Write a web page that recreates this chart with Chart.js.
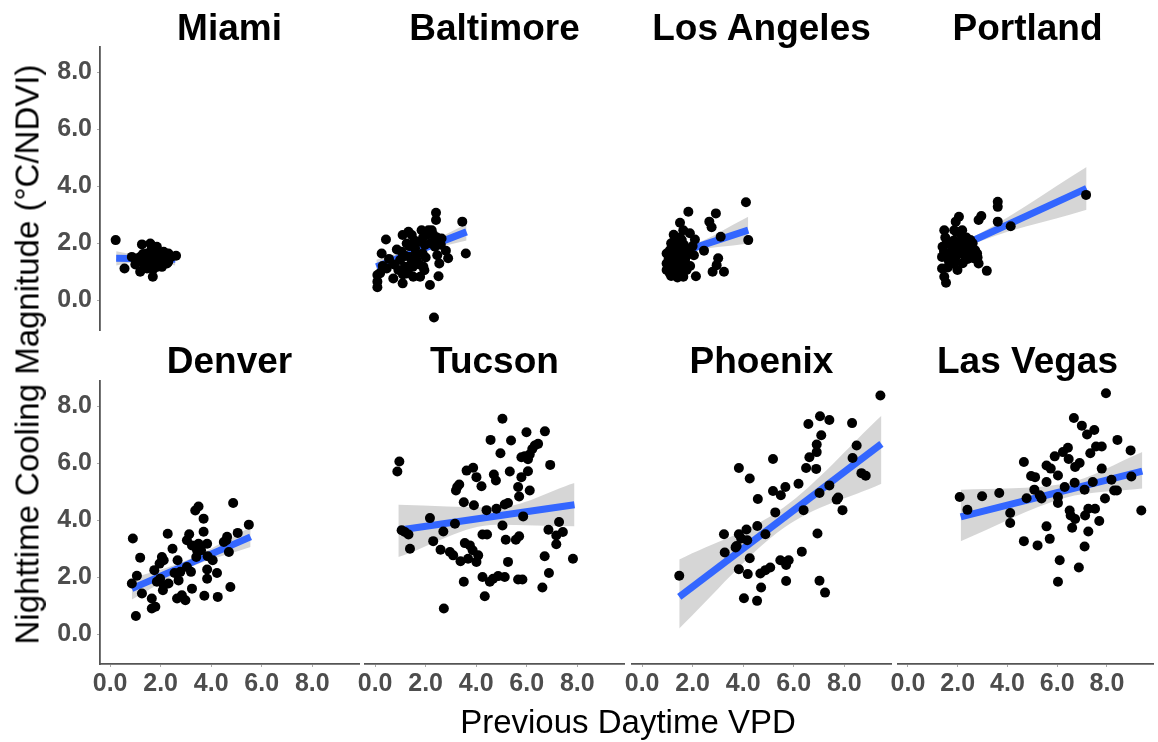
<!DOCTYPE html>
<html>
<head>
<meta charset="utf-8">
<script src="https://cdn.jsdelivr.net/npm/chart.js@4.4.1/dist/chart.umd.min.js"></script>
<style>
  html, body { margin: 0; padding: 0; background: #ffffff; }
  #fig { position: relative; width: 1158px; height: 742px; overflow: hidden;
         font-family: "Liberation Sans", Arial, sans-serif; }
  #fig canvas { position: absolute; left: 0; top: 0; }
  .facet { position: absolute; width: 300px; text-align: center; white-space: nowrap;
           font-size: 37px; line-height: 37px; font-weight: bold; color: #000; }
  .axis-title { position: absolute; text-align: center; white-space: nowrap;
                font-size: 33px; line-height: 33px; color: #000; }
</style>
</head>
<body>
<div id="fig"></div>
<script>
// ---- data -------------------------------------------------------------
const cities = ['Miami', 'Baltimore', 'Los Angeles', 'Portland', 'Denver', 'Tucson', 'Phoenix', 'Las Vegas'];

const xTickValues = [0, 2, 4, 6, 8];
const xTickLabels = ['0.0', '2.0', '4.0', '6.0', '8.0'];
const yTickValues = [0, 2, 4, 6, 8];
const yTickLabels = ['0.0', '2.0', '4.0', '6.0', '8.0'];

// previous daytime VPD (x) and nighttime cooling magnitude (y) per city
const miamiVPD = [0.22,0.57,0.86,1.06,1.19,1.26,1.32,1.46,1.52,1.59,1.65,1.69,1.75,1.79,1.85,1.92,1.98,2.05,2.12,2.18,2.31,2.41,2.61,1.39,1.59,1.85,1.46,1.72,2.25,1.19,1.00,1.30,1.60,1.70,2.00,2.30,1.85];
const miamiCool = [2.11,1.11,1.52,1.41,1.00,1.96,1.29,1.64,1.17,1.99,1.82,0.82,1.52,1.29,1.88,1.64,1.41,1.17,1.70,1.47,1.64,1.52,1.56,1.47,1.29,1.17,1.11,1.70,1.29,1.52,1.25,1.62,1.45,1.08,1.62,1.35,1.50];

const baltimoreVPD = [0.09,0.09,0.09,0.26,0.43,0.46,0.72,0.86,1.09,1.09,1.18,1.25,1.32,1.38,1.45,1.49,1.58,1.64,1.71,1.78,1.84,1.88,1.91,1.97,2.04,2.11,2.17,2.24,2.33,2.41,2.41,2.37,2.46,2.54,2.51,2.63,2.80,2.89,3.45,3.59,0.99,0.92,1.51,1.25,1.05,1.20,1.35,1.55,1.62,1.75,1.90,2.00,2.20,2.30,2.45,1.45,0.75,0.55,0.30,0.20,2.60,1.95,1.30,1.10];
const baltimoreCool = [0.45,0.65,0.88,1.64,2.13,1.11,0.76,1.78,2.29,0.59,1.17,1.99,2.40,1.52,2.29,1.17,1.82,1.41,2.05,0.82,2.46,1.64,1.17,1.94,2.29,2.46,0.53,2.46,-0.61,3.07,2.82,1.88,1.58,1.29,0.84,2.17,1.74,1.47,2.76,1.64,1.41,1.06,0.82,0.94,1.70,1.55,1.90,2.10,1.65,1.25,2.20,1.50,2.00,2.30,2.20,1.35,1.25,1.45,1.20,0.95,1.95,1.05,1.05,0.90];

const losAngelesVPD = [1.83,1.50,1.63,1.30,1.24,0.97,0.97,0.97,1.10,1.37,1.43,1.50,1.63,1.70,1.83,1.89,2.05,2.13,2.09,2.45,2.66,2.75,2.92,2.79,3.01,2.95,3.11,3.24,4.11,4.20,1.24,1.43,1.57,1.76,1.05,1.10,1.15,1.20,1.30,1.35,1.40,1.45,1.55,1.60,1.65,1.70,1.05,1.25,1.50,1.75,1.90,2.00,1.15,1.40];
const losAngelesCool = [3.11,2.72,2.46,2.11,1.82,1.64,1.29,1.06,0.94,1.17,1.52,1.88,0.82,1.41,1.76,2.35,1.58,0.84,2.13,1.74,2.76,2.56,3.05,1.00,1.47,1.23,2.23,1.00,3.44,2.11,1.29,0.94,2.11,1.06,1.45,1.75,2.00,1.20,1.55,0.95,1.85,1.25,1.65,1.05,1.95,1.20,1.15,2.30,2.20,1.55,1.20,1.90,0.85,0.80];

const portlandVPD = [7.16,4.13,3.61,3.61,3.61,3.17,2.84,2.95,2.84,2.78,2.58,2.38,2.18,2.05,1.92,1.86,1.46,1.39,1.37,1.37,1.46,1.53,1.66,1.79,1.92,1.99,2.12,2.25,2.32,2.45,2.64,1.66,1.79,2.05,1.59,2.51,1.45,1.55,1.65,1.75,1.85,1.90,2.00,2.10,2.20,2.30,2.40,2.50,2.60,2.70,2.80,1.60,1.50,2.15,1.95,2.35];
const portlandCool = [3.70,2.60,3.46,3.28,2.76,1.03,2.82,2.96,1.29,1.64,1.82,1.94,2.46,2.93,2.76,2.46,2.46,1.88,1.52,1.11,0.82,0.61,1.64,1.88,1.52,1.06,1.64,1.82,1.52,1.70,1.47,1.99,1.29,1.99,1.47,2.11,1.70,2.00,1.35,1.70,2.10,1.35,1.75,2.05,1.30,1.95,1.45,1.85,2.00,1.75,1.50,1.15,2.20,2.30,2.40,2.20];

const denverVPD = [0.90,0.86,1.06,1.19,1.26,1.02,1.65,1.65,1.79,1.75,1.85,1.96,2.05,2.12,1.98,2.12,2.09,2.28,2.47,2.31,2.67,2.71,2.65,2.84,2.98,2.78,3.04,3.20,3.13,3.24,3.37,3.50,3.41,3.24,3.70,3.70,3.50,3.84,3.86,3.84,3.84,3.73,4.06,4.23,4.26,4.50,4.63,4.70,4.76,4.87,5.05,5.49,3.44,3.04,2.55,3.60,4.60];
const denverCool = [3.36,1.78,2.05,2.69,1.43,0.64,1.25,0.90,0.96,2.25,1.84,2.48,2.71,2.60,1.95,1.72,1.54,3.53,3.00,1.78,2.60,1.89,1.25,1.37,1.19,2.19,2.36,2.19,3.51,3.12,4.35,4.49,2.71,1.60,4.06,3.60,3.18,3.18,2.74,2.27,1.95,1.35,2.60,2.15,1.31,3.24,3.42,2.89,1.66,4.61,3.56,3.85,2.95,3.30,2.15,2.95,3.30];

const tucsonVPD = [0.96,0.88,1.05,1.18,1.32,1.38,2.17,2.30,2.70,2.59,2.72,2.96,3.09,3.16,3.20,3.33,3.25,3.38,3.51,3.51,3.55,3.62,3.88,3.91,3.75,3.86,3.68,4.01,4.21,4.01,4.08,4.25,4.25,4.34,4.41,4.43,4.57,4.54,4.67,4.70,4.78,4.80,4.87,4.96,5.04,5.04,5.13,5.17,5.13,5.26,5.26,5.33,5.38,5.57,5.70,5.66,5.70,5.66,5.83,5.79,5.86,5.79,5.92,5.99,6.05,6.12,6.05,6.12,6.22,6.32,6.45,6.62,6.71,6.72,6.86,6.88,6.93,7.17,7.17,7.28,7.43,7.83];
const tucsonCool = [6.07,5.72,3.65,3.59,3.50,3.00,4.08,3.27,3.61,2.97,0.90,2.89,2.77,3.88,5.05,5.26,5.17,2.56,1.84,4.64,3.20,5.75,5.85,4.53,3.12,2.95,2.65,5.52,5.20,2.54,2.77,3.50,2.01,1.33,4.36,3.50,6.83,1.84,1.95,5.61,5.40,4.41,2.04,6.36,7.57,3.82,2.01,3.32,4.56,4.61,2.54,5.72,6.81,3.32,3.44,5.17,4.84,1.92,1.92,5.52,4.14,6.22,6.25,7.10,5.73,5.05,6.15,6.32,6.51,6.63,6.69,1.64,2.74,7.13,3.67,2.15,5.95,3.47,3.16,3.94,3.59,2.65];

const phoenixVPD = [1.47,9.43,7.04,7.41,6.58,8.31,7.09,6.91,6.91,6.62,8.49,8.33,8.68,8.85,6.49,6.89,3.83,4.26,5.18,6.19,5.67,5.49,5.18,4.58,7.41,7.02,7.70,7.76,7.93,6.39,5.27,3.24,3.27,3.74,3.83,3.92,4.13,4.16,4.56,4.88,3.70,4.26,3.83,4.18,4.68,4.88,5.07,5.47,5.67,5.80,5.70,5.70,6.32,6.94,7.02,7.24,4.71,4.03,4.55];
const phoenixCool = [2.05,8.39,7.66,7.53,7.39,7.42,6.99,6.67,6.40,6.22,6.63,6.19,5.66,5.57,5.84,5.81,5.84,5.47,6.16,5.29,5.17,4.88,5.03,4.75,5.23,4.96,4.73,4.80,4.36,4.36,4.28,3.51,2.87,3.10,3.51,3.36,3.68,3.30,3.80,3.51,3.05,2.67,2.28,2.11,2.13,2.25,2.34,2.60,2.54,2.60,2.43,1.87,2.90,3.54,1.88,1.46,1.64,1.26,1.17];

const lasVegasVPD = [2.08,2.39,2.98,3.67,4.11,4.11,4.66,4.66,4.77,4.95,5.11,5.08,5.21,5.30,5.37,5.57,5.57,5.57,5.70,5.74,5.90,6.03,6.03,6.03,6.10,6.03,6.23,6.30,6.43,6.46,6.50,6.54,6.60,6.67,6.72,6.70,6.72,6.90,6.87,6.99,7.10,7.12,7.20,7.25,7.10,7.33,7.25,7.43,7.49,7.52,7.56,7.69,7.79,7.79,7.92,7.96,8.18,8.29,8.40,8.42,8.95,8.98,9.38];
const lasVegasCool = [4.82,4.37,4.85,4.96,4.26,3.91,6.05,3.27,4.78,5.56,5.52,5.08,3.12,4.88,4.77,5.93,5.35,3.79,3.35,5.82,6.25,5.58,4.82,4.61,2.60,1.84,6.40,5.17,6.55,6.16,4.35,4.17,3.74,7.60,5.88,5.32,4.05,6.02,2.34,7.33,5.08,4.17,7.02,3.61,3.08,6.36,4.41,5.35,7.18,4.41,6.60,3.98,6.60,5.82,4.77,8.47,5.43,5.05,5.05,6.83,6.46,5.54,4.35];

const seriesVPD = [miamiVPD, baltimoreVPD, losAngelesVPD, portlandVPD, denverVPD, tucsonVPD, phoenixVPD, lasVegasVPD];
const seriesCool = [miamiCool, baltimoreCool, losAngelesCool, portlandCool, denverCool, tucsonCool, phoenixCool, lasVegasCool];

// linear fit: end points (VPD, cooling) per city
const fitVPD = [[0.24, 2.58], [0.05, 3.62], [0.97, 4.20], [1.33, 7.18], [0.86, 5.56], [0.92, 7.89], [1.47, 9.47], [2.12, 9.42]];
const fitCool = [[1.47, 1.44], [1.17, 2.40], [1.52, 2.46], [1.58, 3.93], [1.60, 3.42], [3.65, 4.55], [1.31, 6.69], [4.12, 5.73]];

// confidence band: left end, centre, right end
const bandVPD = [[0.24, 1.50, 2.58], [0.05, 1.80, 3.62], [0.97, 1.80, 4.20], [1.33, 2.30, 7.18], [0.86, 3.10, 5.56], [0.92, 4.80, 7.89], [1.47, 5.60, 9.47], [2.12, 6.30, 9.42]];
const bandHigh = [[1.72, 1.53, 1.68], [1.42, 1.91, 2.68], [1.76, 1.87, 2.93], [1.82, 2.09, 4.68], [1.95, 2.62, 3.77], [4.55, 4.45, 5.31], [2.62, 4.45, 7.68], [5.08, 5.29, 6.40]];
const bandLow = [[1.22, 1.39, 1.22], [0.93, 1.67, 2.10], [1.28, 1.65, 1.99], [1.34, 1.85, 3.18], [1.22, 2.32, 3.06], [2.71, 3.85, 3.79], [0.20, 3.73, 5.29], [3.27, 4.79, 5.12]];

// ---- layout -----------------------------------------------------------
const W = 1158, H = 742;
const FONT = '"Liberation Sans", Arial, sans-serif';
const colLeft = [100, 365, 632, 898];
const rowTop = [47, 381];
const panelW = 259, panelH = 283;
const xMin = -0.4, xMax = 9.85, yMin = -1.05, yMax = 8.9;
const yAxisW = 60, xAxisH = 40;

const fig = document.getElementById('fig');

function pts(xs, ys) { return xs.map((x, i) => ({ x: x, y: ys[i] })); }

function axis(show, isX, min, max, values, labels) {
  return {
    type: 'linear',
    display: show,
    position: isX ? 'bottom' : 'left',
    min: min, max: max,
    afterBuildTicks: s => { s.ticks = values.map(v => ({ value: v })); },
    // hidden axes take no room; shown axes get a fixed band
    afterFit: s => {
      if (isX) s.height = show ? xAxisH : 0;
      else s.width = show ? yAxisW : 0;
    },
    border: { display: true, color: '#555555', width: 1.8 },
    grid: { display: true, drawOnChartArea: false, drawTicks: true, tickLength: 3, color: '#aaaaaa', lineWidth: 1 },
    ticks: {
      color: '#4d4d4d', padding: isX ? 2 : 5, autoSkip: false, maxRotation: 0, minRotation: 0,
      font: { family: FONT, size: 25, weight: 'bold' },
      callback: v => labels[values.indexOf(v)]
    }
  };
}

cities.forEach((city, k) => {
  const r = Math.floor(k / 4), c = k % 4;
  const left = colLeft[c], top = rowTop[r];
  const showY = c === 0, showX = r === 1;

  const canvas = document.createElement('canvas');
  canvas.width = W; canvas.height = H;
  canvas.style.width = W + 'px'; canvas.style.height = H + 'px';
  fig.appendChild(canvas);

  const bx = bandVPD[k];
  new Chart(canvas, {
    type: 'scatter',
    data: {
      datasets: [
        { type: 'scatter', data: pts(seriesVPD[k], seriesCool[k]),
          pointRadius: 5, pointBackgroundColor: '#000000', pointBorderWidth: 0, pointHoverRadius: 5 },
        { type: 'line', data: pts(fitVPD[k], fitCool[k]),
          borderColor: '#3366ff', borderWidth: 7, borderCapStyle: 'butt', pointRadius: 0, fill: false },
        { type: 'line', data: pts(bx, bandHigh[k]),
          borderWidth: 0, pointRadius: 0, cubicInterpolationMode: 'monotone',
          fill: '+1', backgroundColor: 'rgba(153,153,153,0.4)' },
        { type: 'line', data: pts(bx, bandLow[k]),
          borderWidth: 0, pointRadius: 0, cubicInterpolationMode: 'monotone', fill: false }
      ]
    },
    options: {
      responsive: false, animation: false, devicePixelRatio: 1, events: [],
      layout: { padding: {
        left: left - (showY ? yAxisW : 0),
        top: top,
        right: W - (left + panelW),
        bottom: H - (top + panelH) - (showX ? xAxisH : 0)
      } },
      plugins: { legend: { display: false }, tooltip: { enabled: false }, title: { display: false } },
      scales: {
        x: axis(showX, true, xMin, xMax, xTickValues, xTickLabels),
        y: axis(showY, false, yMin, yMax, yTickValues, yTickLabels)
      }
    }
  });

  const t = document.createElement('div');
  t.className = 'facet';
  t.textContent = city;
  t.style.left = (left + panelW / 2 - 150) + 'px';
  t.style.top = (r === 0 ? 8.6 : 341.6) + 'px';
  fig.appendChild(t);
});

// shared axis titles
const yTitle = document.createElement('div');
yTitle.className = 'axis-title';
yTitle.textContent = 'Nighttime Cooling Magnitude (°C/NDVI)';
yTitle.style.width = '700px';
yTitle.style.left = (26.6 - 350) + 'px';
yTitle.style.top = (354 - 16.5) + 'px';
yTitle.style.transform = 'rotate(-90deg)';
fig.appendChild(yTitle);

const xTitle = document.createElement('div');
xTitle.className = 'axis-title';
xTitle.textContent = 'Previous Daytime VPD';
xTitle.style.width = '600px';
xTitle.style.left = (628 - 300) + 'px';
xTitle.style.top = '705px';
fig.appendChild(xTitle);
</script>
</body>
</html>
